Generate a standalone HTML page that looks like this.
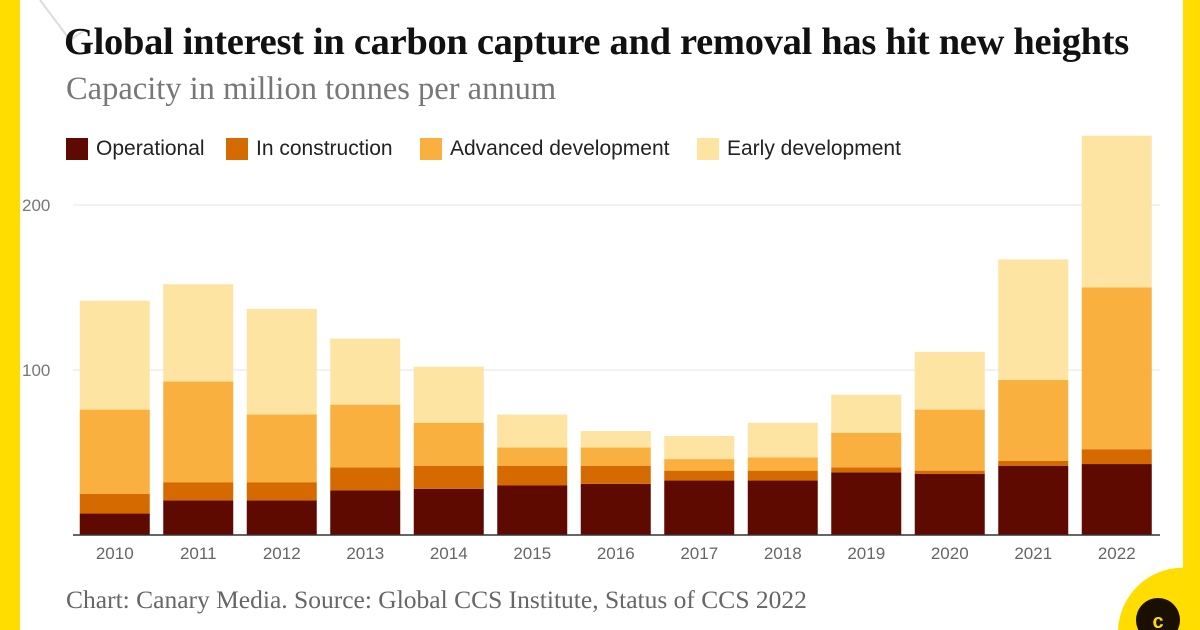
<!DOCTYPE html>
<html><head><meta charset="utf-8">
<style>
body{margin:0;width:1200px;height:630px;overflow:hidden;background:#fff;font-family:"Liberation Sans",sans-serif;position:relative}
.y{position:absolute;background:#FFDD00}
#title{position:absolute;left:64px;top:20px;font-family:"Liberation Serif",serif;font-weight:bold;font-size:38.5px;color:#111;letter-spacing:-0.3px;white-space:nowrap}
#sub{position:absolute;left:66px;top:71px;font-family:"Liberation Serif",serif;font-size:32.5px;color:#777;white-space:nowrap}
#src{position:absolute;left:66px;top:585px;font-family:"Liberation Serif",serif;font-size:25.5px;color:#666;white-space:nowrap}
.leg{position:absolute;top:137px;font-size:21px;color:#222;display:flex;align-items:center}
.leg span{display:inline-block;width:22px;height:22px;margin-right:8px}
</style></head><body>
<div class="y" style="left:0;top:0;width:20px;height:630px"></div>
<div class="y" style="left:1183px;top:0;width:17px;height:630px"></div>
<svg style="position:absolute;left:0;top:0" width="1200" height="630">
<path d="M40 0 L70 40 L85 30" stroke="#ddd" stroke-width="2" fill="none"/>
<path d="M1200 570 A65 65 0 0 0 1118 630 L1200 630Z" fill="#FFDD00"/>
<circle cx="1158" cy="620" r="22" fill="#1a0f00"/>
<text x="1158" y="628" text-anchor="middle" font-family="Liberation Sans" font-weight="bold" font-size="20" fill="#FFDD00">c</text>
</svg>
<div id="title">Global interest in carbon capture and removal has hit new heights</div>
<div id="sub">Capacity in million tonnes per annum</div>
<div class="leg" style="left:66px"><span style="background:#5E0A00"></span>Operational</div>
<div class="leg" style="left:226px"><span style="background:#D46A00"></span>In construction</div>
<div class="leg" style="left:420px"><span style="background:#F9B03E"></span>Advanced development</div>
<div class="leg" style="left:697px"><span style="background:#FDE4A2"></span>Early development</div>
<svg id="chart" style="position:absolute;left:0;top:0" width="1200" height="630"></svg>
<div id="src">Chart: Canary Media. Source: Global CCS Institute, Status of CCS 2022</div>
<script>
const years=["2010","2011","2012","2013","2014","2015","2016","2017","2018","2019","2020","2021","2022"];
const operational=[13,21,21,27,28,30,31,33,33,38,37,42,43];
const construction=[12,11,11,14,14,12,11,6,6,3,2,3,9];
const advanced=[51,61,41,38,26,11,11,7,8,21,37,49,98];
const early=[66,59,64,40,34,20,10,14,21,23,35,73,92];
const yTicks=[100,200];
const colors=["#5E0A00","#D46A00","#F9B03E","#FDE4A2"];
const NS="http://www.w3.org/2000/svg",svg=document.getElementById('chart');
const y0=535,k=1.65,x0=73,step=83.5,bw=70;
const Y=v=>y0-v*k, X=i=>x0+i*step+(step-bw)/2;
function el(t,a){const e=document.createElementNS(NS,t);for(const n in a)e.setAttribute(n,a[n]);svg.appendChild(e);return e;}
yTicks.forEach(t=>{
 const l=el('line',{x1:73,x2:1160,y1:Y(t),y2:Y(t),stroke:'#e4e4e4'});
 
 
 const tx=el('text',{x:22,y:Y(t)+6,'font-size':17,fill:'#777','font-family':'Liberation Sans'});tx.textContent=t;
 
 
});
const series=[operational,construction,advanced,early],names=['operational','construction','advanced','early'];
years.forEach((yr,i)=>{
 let acc=0;
 series.forEach((s,j)=>{
  const r=el('rect',{x:X(i),y:Y(acc+s[i]),width:bw,height:s[i]*k,fill:colors[j]});
  
  
  acc+=s[i];
 });
 const t=el('text',{x:X(i)+bw/2,y:559,'text-anchor':'middle','font-size':17,fill:'#666','font-family':'Liberation Sans'});t.textContent=yr;
 
 
});
const ax=el('line',{x1:73,x2:1160,y1:y0,y2:y0,stroke:'#333','stroke-width':1.5});


</script>
</body></html>
